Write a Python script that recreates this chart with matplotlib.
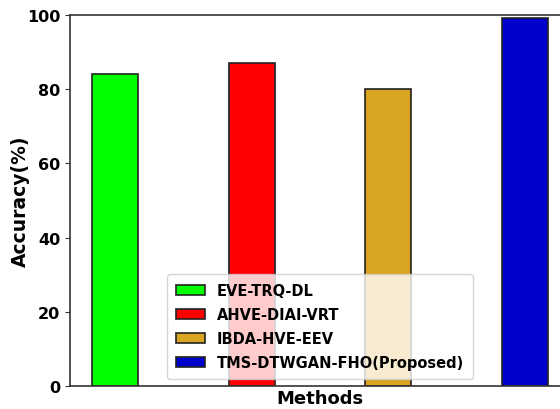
import matplotlib
matplotlib.use('Agg')
import matplotlib.pyplot as plt

methods = ['EVE-TRQ-DL', 'AHVE-DIAI-VRT', 'IBDA-HVE-EEV', 'TMS-DTWGAN-FHO(Proposed)']
accuracy = [84, 87, 80, 99.2]
colors = ['#00ff00', '#ff0000', '#daa520', '#0000cd']

fig = plt.figure(figsize=(5.6, 4.1), dpi=100)
ax = fig.add_axes([0.125, 0.056, 0.893, 0.905])

for i, (m, v, c) in enumerate(zip(methods, accuracy, colors)):
    ax.bar(i, v, width=0.335, color=c, edgecolor='#222222', linewidth=1.2, label=m)

ax.set_xlim(-0.33, 3.33)
ax.set_ylim(0, 100)
ax.set_xticks([])
ax.set_yticks([0, 20, 40, 60, 80, 100])
for lbl in ax.get_yticklabels():
    lbl.set_fontweight('bold')
    lbl.set_fontsize(11.5)
for s in ax.spines.values():
    s.set_color('#333333')
    s.set_linewidth(1.2)
ax.tick_params(axis='y', color='#333333')
ax.set_ylabel('Accuracy(%)', fontsize=13.5, fontweight='bold')
ax.yaxis.set_label_coords(-0.08, 0.5)
ax.set_xlabel('Methods', fontsize=13, fontweight='bold', labelpad=2)
ax.legend(loc='lower center', prop={'weight': 'bold', 'size': 10.5},
          framealpha=0.8, labelspacing=0.62, borderpad=0.6,
          bbox_to_anchor=(0.5, 0.0))

fig.savefig('out.png', dpi=100)
